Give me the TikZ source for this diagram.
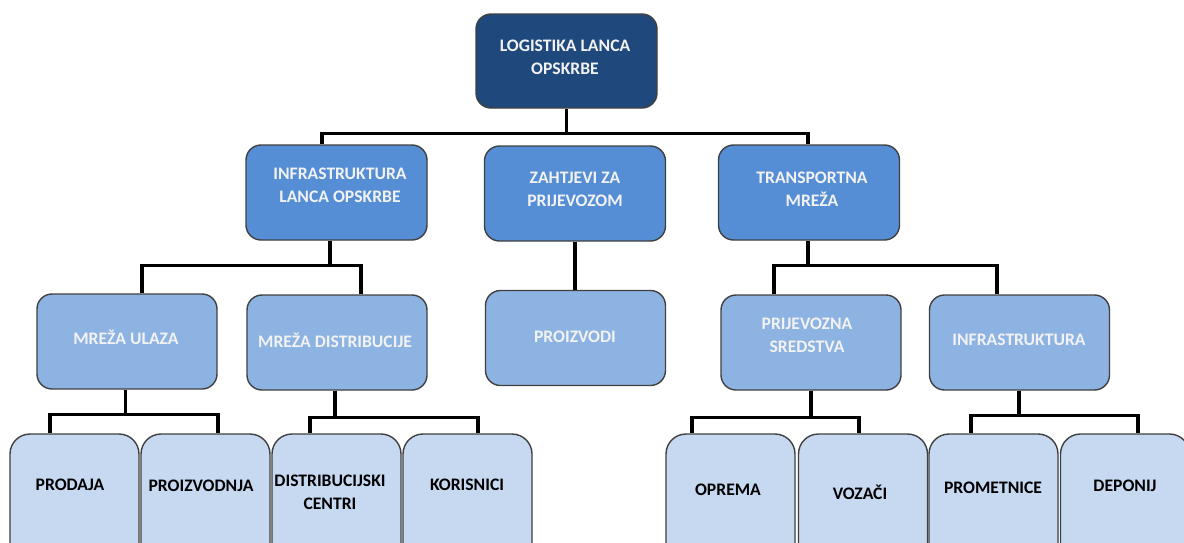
\documentclass[tikz,border=0pt]{standalone}
\usepackage{fontspec}
\setmainfont{Carlito}
\begin{document}
\begin{tikzpicture}[x=1pt,y=-1pt,
  boxbase/.style={draw=black!75, line width=1.4pt, rounded corners=15pt, inner sep=0pt},
  lvlone/.style={boxbase, fill=cTop, minimum width=181pt, minimum height=94pt},
  lvltwo/.style={boxbase, fill=cTwo, minimum width=181pt, minimum height=95pt},
  lvlthree/.style={boxbase, fill=cThree, minimum width=180pt, minimum height=95pt},
  lvlfour/.style={boxbase, fill=cFour, minimum width=129pt, minimum height=130pt, rounded corners=20pt},
  tw/.style={font=\bfseries\fontsize{17.6}{23}\selectfont, text=white!95!black, align=center, inner sep=0pt},
  tb/.style={font=\bfseries\fontsize{17.6}{23}\selectfont, text=black, align=center, inner sep=0pt},
  conn/.style={draw=black, line width=3.2pt}
]
\definecolor{cTop}{RGB}{31,73,125}
\definecolor{cTwo}{RGB}{85,142,213}
\definecolor{cThree}{RGB}{141,179,226}
\definecolor{cFour}{RGB}{198,217,241}
\clip (0,0) rectangle (1184,542);
\fill[white] (0,0) rectangle (1184,542);

% level 1
\node[lvlone] (top) at (566.5,61) {};
% level 2
\node[lvltwo] (infra) at (336.5,192.5) {};
\node[lvltwo] (zaht) at (575,193.5) {};
\node[lvltwo] (trans) at (809,192.5) {};
% level 3
\node[lvlthree] (ulaz) at (127,341.5) {};
\node[lvlthree] (distr) at (337,342.5) {};
\node[lvlthree] (proiz) at (575.5,338) {};
\node[lvlthree] (prij) at (811,342.5) {};
\node[lvlthree] (infr) at (1019.5,342.5) {};
% level 4
\node[lvlfour] (prod) at (74.5,499) {};
\node[lvlfour] (proizv) at (205.5,499) {};
\node[lvlfour] (dc) at (336.5,499) {};
\node[lvlfour] (kor) at (467.5,499) {};
\node[lvlfour] (opr) at (730.5,499) {};
\node[lvlfour] (voz) at (863,499) {};
\node[lvlfour] (prom) at (993.5,499) {};
\node[lvlfour] (dep) at (1125,499) {};

% texts
\node[tw] (ttop) at (565,57.5) {LOGISTIKA LANCA\\OPSKRBE};
\node[tw] (tinfra) at (340,185) {INFRASTRUKTURA\\LANCA OPSKRBE};
\node[tw] (tzaht) at (575,189.5) {ZAHTJEVI ZA\\PRIJEVOZOM};
\node[tw] (ttrans) at (812,189.5) {TRANSPORTNA\\MREŽA};
\node[tw] (tulaz) at (126,337) {MREŽA ULAZA};
\node[tw] (tdistr) at (335,340) {MREŽA DISTRIBUCIJE};
\node[tw] (tproiz) at (575,337) {PROIZVODI};
\node[tw] (tprij) at (807,335) {PRIJEVOZNA\\SREDSTVA};
\node[tw] (tinfr) at (1019,340) {INFRASTRUKTURA};
\node[tb] (tprod) at (70,485) {PRODAJA};
\node[tb] (tproizv) at (201,486) {PROIZVODNJA};
\node[tb] (tdc) at (330,492) {DISTRIBUCIJSKI\\CENTRI};
\node[tb] (tkor) at (467,485) {KORISNICI};
\node[tb] (topr) at (728,490) {OPREMA};
\node[tb] (tvoz) at (860,492) {VOZAČI};
\node[tb] (tprom) at (993,488) {PROMETNICE};
\node[tb] (tdep) at (1125,486) {DEPONIJ};

% connectors
\draw[conn] (top.south) -- ++(0,25) coordinate (b1) -| ([xshift=-14.5pt]infra.north);
\draw[conn] (b1) -| ([xshift=-1pt]trans.north);
\draw[conn] ([xshift=-6.5pt]infra.south) -- ++(0,25) coordinate (b2) -| ([xshift=15pt]ulaz.north);
\draw[conn] (b2) -| ([xshift=24pt]distr.north);
\draw[conn] (zaht.south) -- (zaht.south |- proiz.north);
\draw[conn] ([xshift=-1pt]trans.south) -- ++(0,25) coordinate (b3) -| ([xshift=-37pt]prij.north);
\draw[conn] (b3) -| ([xshift=-22.5pt]infr.north);
\draw[conn] ([xshift=-1.5pt]ulaz.south) -- ++(0,25) coordinate (b4) -| ([xshift=-24.5pt]prod.north);
\draw[conn] (b4) -| ([xshift=12.5pt]proizv.north);
\draw[conn] ([xshift=-2pt]distr.south) -- ++(0,27) coordinate (b5) -| ([xshift=-26.5pt]dc.north);
\draw[conn] (b5) -| ([xshift=10.5pt]kor.north);
\draw[conn] (prij.south) -- ++(0,27) coordinate (b6) -| ([xshift=-38.5pt]opr.north);
\draw[conn] (b6) -| ([xshift=-4pt]voz.north);
\draw[conn] ([xshift=-0.5pt]infr.south) -- ++(0,25) coordinate (b7) -| ([xshift=-22.5pt]prom.north);
\draw[conn] (b7) -| ([xshift=13pt]dep.north);
\end{tikzpicture}
\end{document}
